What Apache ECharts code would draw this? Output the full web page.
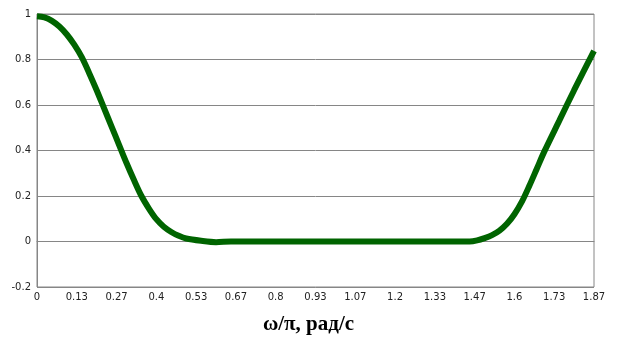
<!DOCTYPE html>
<html>
<head>
<meta charset="utf-8">
<script src="https://cdn.jsdelivr.net/npm/echarts@6/dist/echarts.min.js"></script>
<style>
html,body{margin:0;padding:0;background:#fff;}
#c{width:617px;height:354px;}
</style>
</head>
<body>
<div id="c"></div>
<script>
// ω/π values
const omegaOverPi = [0, 0.025, 0.05, 0.075, 0.1, 0.125, 0.15, 0.175, 0.2, 0.225, 0.25, 0.275, 0.3, 0.325, 0.35, 0.375, 0.4, 0.425, 0.45, 0.475, 0.5, 0.55, 0.6, 0.65, 0.7, 0.8, 0.9, 1.0, 1.1, 1.2, 1.3, 1.4, 1.45, 1.475, 1.5, 1.525, 1.55, 1.575, 1.6, 1.625, 1.65, 1.675, 1.7, 1.75, 1.8, 1.8667];
// amplitude response
const amplitude = [0.99, 0.985, 0.97, 0.945, 0.91, 0.865, 0.81, 0.74, 0.665, 0.585, 0.505, 0.425, 0.345, 0.27, 0.20, 0.145, 0.098, 0.065, 0.042, 0.025, 0.013, 0.003, -0.003, 0, 0, 0, 0, 0, 0, 0, 0, 0, 0, 0.005, 0.015, 0.028, 0.048, 0.078, 0.12, 0.175, 0.245, 0.32, 0.395, 0.53, 0.665, 0.838];
const xTickLabels = ['0','0.13','0.27','0.4','0.53','0.67','0.8','0.93','1.07','1.2','1.33','1.47','1.6','1.73','1.87'];
const yTickValues = [-0.2, 0, 0.2, 0.4, 0.6, 0.8, 1];
const xAxisTitle = 'ω/π, рад/с';

const chart = echarts.init(document.getElementById('c'), null, {renderer: 'canvas'});
const gray = '#868686';
chart.setOption({
  animation: false,
  backgroundColor: '#fff',
  title: {
    text: xAxisTitle,
    left: 'center',
    top: 309,
    textStyle: {fontFamily: 'Liberation Serif', fontWeight: 'bold', fontSize: 21, color: '#000'}
  },
  grid: {left: 37, right: 23, top: 14, bottom: 67, show: true, borderColor: gray, borderWidth: 1},
  xAxis: {
    type: 'value',
    min: 0,
    max: 28 / 15,
    interval: 2 / 15,
    axisLine: {onZero: true, lineStyle: {color: gray}},
    axisTick: {show: false},
    splitLine: {show: false},
    axisLabel: {
      margin: 5,
      color: '#222',
      fontFamily: 'DejaVu Sans',
      fontSize: 10,
      showMaxLabel: true,
      formatter: v => xTickLabels[Math.round(v * 15 / 2)] ?? ''
    }
  },
  yAxis: {
    type: 'value',
    min: yTickValues[0],
    max: yTickValues[yTickValues.length - 1],
    interval: 0.2,
    axisLine: {show: true, lineStyle: {color: gray}},
    axisTick: {show: false},
    splitLine: {lineStyle: {color: gray, width: 1}},
    axisLabel: {
      margin: 6,
      color: '#222',
      fontFamily: 'DejaVu Sans',
      fontSize: 10,
      formatter: v => String(parseFloat(v.toFixed(1)))
    }
  },
  series: [{
    type: 'line',
    data: omegaOverPi.map((x, i) => [x, amplitude[i]]),
    smooth: 0.3,
    showSymbol: false,
    lineStyle: {color: '#006400', width: 6},
    itemStyle: {color: '#006400'}
  }]
});
</script>
</body>
</html>
